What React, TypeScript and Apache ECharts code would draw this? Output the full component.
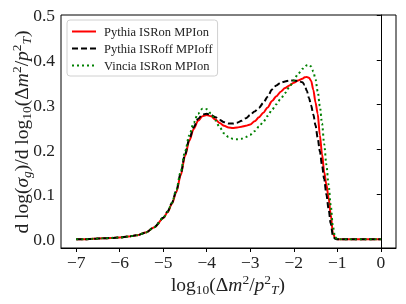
import React, { useEffect, useRef } from 'react';
import * as echarts from 'echarts';

const xs = [
  -7.0, -6.8, -6.6, -6.4, -6.2, -6.0, -5.8, -5.6, -5.4, -5.2,
  -5.0, -4.9, -4.8, -4.7, -4.6, -4.5, -4.4, -4.3, -4.2, -4.1,
  -4.0, -3.9, -3.8, -3.7, -3.6, -3.5, -3.4, -3.3, -3.2, -3.1,
  -3.0, -2.9, -2.8, -2.7, -2.6, -2.5, -2.4, -2.3, -2.2, -2.1,
  -2.0, -1.9, -1.8, -1.75, -1.7, -1.65, -1.6, -1.55, -1.5, -1.45,
  -1.4, -1.35, -1.3, -1.25, -1.2, -1.15, -1.1, -1.05, -1.0, -0.8,
  -0.6, -0.4, -0.2, 0.0,
];

const pythiaOn = [
  0.000, 0.000, 0.001, 0.002, 0.003, 0.004, 0.006, 0.009, 0.015, 0.027,
  0.047, 0.060, 0.079, 0.105, 0.142, 0.185, 0.220, 0.246, 0.264, 0.274,
  0.277, 0.274, 0.267, 0.259, 0.253, 0.249, 0.248, 0.249, 0.251, 0.253,
  0.256, 0.263, 0.272, 0.282, 0.294, 0.308, 0.319, 0.329, 0.337, 0.343,
  0.349, 0.354, 0.358, 0.361, 0.362, 0.360, 0.353, 0.333, 0.305, 0.280,
  0.232, 0.190, 0.150, 0.122, 0.093, 0.055, 0.013, 0.003, 0.000, 0.000,
  0.000, 0.000, 0.000, 0.000,
];

const pythiaOff = [
  0.000, 0.000, 0.001, 0.002, 0.003, 0.004, 0.006, 0.009, 0.015, 0.028,
  0.048, 0.062, 0.081, 0.108, 0.146, 0.189, 0.224, 0.250, 0.268, 0.278,
  0.280, 0.277, 0.272, 0.266, 0.261, 0.258, 0.258, 0.260, 0.264, 0.270,
  0.277, 0.285, 0.293, 0.304, 0.318, 0.334, 0.343, 0.349, 0.352, 0.354,
  0.354, 0.353, 0.350, 0.344, 0.331, 0.315, 0.298, 0.278, 0.254, 0.226,
  0.196, 0.165, 0.134, 0.100, 0.068, 0.035, 0.008, 0.001, 0.000, 0.000,
  0.000, 0.000, 0.000, 0.000,
];

const vincia = [
  0.000, 0.000, 0.001, 0.002, 0.003, 0.004, 0.006, 0.009, 0.015, 0.027,
  0.047, 0.061, 0.081, 0.110, 0.150, 0.195, 0.232, 0.260, 0.280, 0.291,
  0.290, 0.280, 0.265, 0.249, 0.236, 0.228, 0.224, 0.223, 0.224, 0.228,
  0.233, 0.241, 0.251, 0.262, 0.275, 0.289, 0.301, 0.313, 0.326, 0.339,
  0.354, 0.369, 0.380, 0.385, 0.388, 0.389, 0.385, 0.374, 0.356, 0.330,
  0.297, 0.258, 0.212, 0.166, 0.122, 0.075, 0.028, 0.005, 0.000, 0.000,
  0.000, 0.000, 0.000, 0.000,
];

const seriesNames = ['Pythia ISRon MPIon', 'Pythia ISRoff MPIoff', 'Vincia ISRon MPIon'];
const xTicks = [-7, -6, -5, -4, -3, -2, -1, 0];
const yTicks = [0, 0.1, 0.2, 0.3, 0.4, 0.5];

export default function App() {
  const ref = useRef<HTMLDivElement>(null);
  useEffect(() => {
    const chart = echarts.init(ref.current!, null, { renderer: 'svg' });
    const font = 'Liberation Serif';
    const txt = '#222';
    const pair = (ys: number[]) => xs.map((x, i) => [x, ys[i]]);
    const mk = (name: string, ys: number[], color: string, type: any) => ({
      name,
      type: 'line',
      data: pair(ys),
      symbol: 'none',
      showSymbol: false,
      smooth: 0.3,
      smoothMonotone: 'x',
      lineStyle: { color, width: 2, type },
      itemStyle: { color },
    });
    const big = 19.5;
    const small = 13.5;
    const rich: any = {
      n: { fontFamily: font, fontSize: big, lineHeight: 24, verticalAlign: 'middle', fill: txt, color: txt },
      i: { fontFamily: font, fontSize: big, fontStyle: 'italic', lineHeight: 24, verticalAlign: 'middle', fill: txt, color: txt },
      sb: { fontFamily: font, fontSize: small, lineHeight: 12, verticalAlign: 'bottom', fill: txt, color: txt },
      sbi: { fontFamily: font, fontSize: small, fontStyle: 'italic', lineHeight: 12, verticalAlign: 'bottom', fill: txt, color: txt },
      sp: { fontFamily: font, fontSize: small, lineHeight: 12, verticalAlign: 'top', fill: txt, color: txt },
    };
    const xTitle = '{n|log}{sb|10}{n|(Δ}{i|m}{sp|2}{n|/}{i|p}{sp|2}{sbi|T}{n|)}';
    const yTitle = '{n|d log(}{i|σ}{sbi|g}{n|)/d log}{sb|10}{n|(Δ}{i|m}{sp|2}{n|/}{i|p}{sp|2}{sbi|T}{n|)}';
    chart.setOption({
      animation: false,
      grid: { left: 61, right: 10, top: 15, bottom: 56, show: true, borderColor: '#000', borderWidth: 1, backgroundColor: 'transparent' },
      legend: {
        data: seriesNames,
        orient: 'vertical',
        left: 67,
        top: 20,
        padding: [5, 5, 4, 4],
        itemWidth: 24,
        itemHeight: 12,
        itemGap: 4,
        itemStyle: { opacity: 0 },
        borderColor: '#d0d0d0',
        borderWidth: 1,
        borderRadius: 3,
        backgroundColor: 'rgba(255,255,255,0.8)',
        textStyle: { fontFamily: font, fontSize: 12.5, color: txt, padding: [0, 0, 0, 3] },
      },
      xAxis: {
        type: 'value',
        min: -7.35,
        max: 0.35,
        axisLine: { show: true, onZero: false, lineStyle: { color: '#000', width: 1 } },
        axisTick: { show: true, customValues: xTicks, length: 4, lineStyle: { color: '#000' } },
        axisLabel: {
          customValues: xTicks,
          formatter: (v: number) => (v < 0 ? '\u2212' + Math.abs(v) : String(v)),
          fontFamily: font,
          fontSize: 17.5,
          color: txt,
          margin: 5,
        },
        splitLine: { show: false },
      },
      yAxis: {
        type: 'value',
        min: -0.0195,
        max: 0.5,
        axisLine: { show: true, lineStyle: { color: '#000', width: 1 } },
        axisTick: { show: true, customValues: yTicks, length: 4, lineStyle: { color: '#000' } },
        axisLabel: {
          customValues: yTicks,
          formatter: (v: number) => v.toFixed(1),
          fontFamily: font,
          fontSize: 17.5,
          color: txt,
          margin: 6,
        },
        splitLine: { show: false },
      },
      graphic: [
        {
          type: 'text',
          x: 228,
          y: 284,
          style: { text: xTitle, rich, align: 'center', verticalAlign: 'middle', textAlign: 'center', textVerticalAlign: 'middle' },
        },
        {
          type: 'text',
          x: 21,
          y: 132,
          rotation: Math.PI / 2,
          style: { text: yTitle, rich, align: 'center', verticalAlign: 'middle', textAlign: 'center', textVerticalAlign: 'middle' },
        },
      ],
      series: [
        mk(seriesNames[0], pythiaOn, '#ff0000', 'solid'),
        mk(seriesNames[1], pythiaOff, '#000000', [6, 3]),
        mk(seriesNames[2], vincia, '#008000', [2, 3]),
      ],
    });
    return () => chart.dispose();
  }, []);
  return <div ref={ref} style={{ position: 'fixed', left: 0, top: 0, width: 406, height: 304 }} />;
}
